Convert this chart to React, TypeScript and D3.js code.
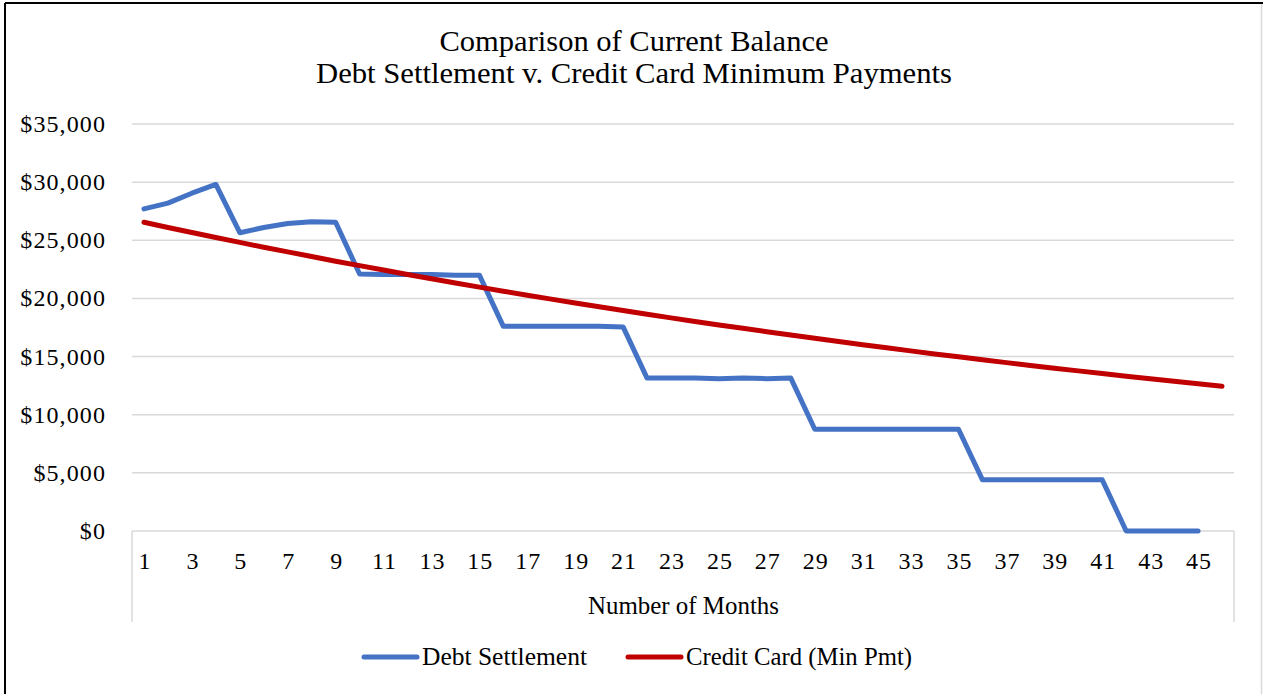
import React from "react";
import * as d3 from "d3";

const months: number[] = Array.from({ length: 46 }, (_, i) => i + 1);

const debtSettlement: number[] = [
  27700, 28200, 29050, 29800, 25650, 26100, 26450, 26600, 26550, 22100,
  22050, 22050, 22050, 22000, 22000, 17600, 17600, 17600, 17600, 17600,
  17550, 13150, 13150, 13150, 13100, 13150, 13100, 13150, 8750, 8750,
  8750, 8750, 8750, 8750, 8750, 4400, 4400, 4400, 4400, 4400,
  4400, 0, 0, 0, 0,
];

const creditCard: number[] = [
  26550, 26100, 25670, 25240, 24820, 24400, 24000, 23600, 23200, 22820,
  22440, 22060, 21690, 21330, 20970, 20620, 20280, 19940, 19610, 19280,
  18960, 18640, 18330, 18020, 17720, 17430, 17140, 16850, 16570, 16290,
  16020, 15750, 15490, 15230, 14980, 14730, 14480, 14240, 14000, 13770,
  13540, 13310, 13090, 12870, 12660, 12450,
];

const yTicks: number[] = [0, 5000, 10000, 15000, 20000, 25000, 30000, 35000];
const xTickLabels: number[] = months.filter((m) => m % 2 === 1);

const titleLines = [
  "Comparison of Current Balance",
  "Debt Settlement v. Credit Card Minimum Payments",
];
const seriesNames = ["Debt Settlement", "Credit Card (Min Pmt)"];
const seriesColors = ["#4472C4", "#C00000"];

const W = 1263;
const H = 694;
const plot = { left: 132, right: 1234, top: 124, bottom: 531 };
const FONT = "'Liberation Serif', 'Times New Roman', serif";

export default function App() {
  const x = d3
    .scaleBand<number>()
    .domain(months)
    .range([plot.left, plot.right]);
  const cx = (m: number) => (x(m) as number) + x.bandwidth() / 2;
  const y = d3.scaleLinear().domain([0, 35000]).range([plot.bottom, plot.top]);
  const fmt = (v: number) => "$" + d3.format(",")(v);

  const line = d3
    .line<number>()
    .x((_, i) => cx(months[i]))
    .y((d) => y(d));

  return (
    <svg
      width={W}
      height={H}
      style={{ position: "absolute", left: 0, top: 0, background: "#fff" }}
      fontFamily={FONT}
    >
      <rect x={0} y={0} width={W} height={H} fill="#fff" />
      {/* border */}
      <line x1={5} y1={3} x2={W} y2={3} stroke="#000" strokeWidth={2} />
      <line x1={5} y1={3} x2={5} y2={H} stroke="#000" strokeWidth={2} />
      <line x1={1261.5} y1={4} x2={1261.5} y2={H} stroke="#d9d9d9" strokeWidth={1.5} />

      {/* title */}
      <text x={634} y={51} textAnchor="middle" fontSize={29} textLength={389} lengthAdjust="spacingAndGlyphs" fill="#000">
        {titleLines[0]}
      </text>
      <text x={634} y={83} textAnchor="middle" fontSize={29} textLength={636} lengthAdjust="spacingAndGlyphs" fill="#000">
        {titleLines[1]}
      </text>

      {/* gridlines */}
      {yTicks.map((t) => (
        <line
          key={"g" + t}
          x1={plot.left}
          x2={plot.right}
          y1={y(t)}
          y2={y(t)}
          stroke="#d9d9d9"
          strokeWidth={1.5}
        />
      ))}
      {/* y tick labels */}
      {yTicks.map((t) => (
        <text
          key={"yt" + t}
          x={106}
          y={y(t) + 8}
          textAnchor="end"
          fontSize={24}
          letterSpacing={1.1}
          fill="#000"
        >
          {fmt(t)}
        </text>
      ))}

      {/* category axis box lines */}
      <line x1={plot.left} x2={plot.left} y1={plot.bottom} y2={622} stroke="#d9d9d9" strokeWidth={1.5} />
      <line x1={plot.right} x2={plot.right} y1={plot.bottom} y2={622} stroke="#d9d9d9" strokeWidth={1.5} />

      {/* x tick labels */}
      {xTickLabels.map((m) => (
        <text
          key={"xt" + m}
          x={cx(m) + 1}
          y={569}
          textAnchor="middle"
          fontSize={24}
          letterSpacing={1}
          fill="#000"
        >
          {m}
        </text>
      ))}

      {/* axis title */}
      <text x={683.5} y={614} textAnchor="middle" fontSize={25} textLength={191} lengthAdjust="spacingAndGlyphs" fill="#000">
        Number of Months
      </text>

      {/* series */}
      <path
        d={line(debtSettlement) || ""}
        fill="none"
        stroke={seriesColors[0]}
        strokeWidth={5}
        strokeLinejoin="round"
        strokeLinecap="round"
      />
      <path
        d={line(creditCard) || ""}
        fill="none"
        stroke={seriesColors[1]}
        strokeWidth={5}
        strokeLinejoin="round"
        strokeLinecap="round"
      />

      {/* legend */}
      <line x1={364} x2={417} y1={657} y2={657} stroke={seriesColors[0]} strokeWidth={5} strokeLinecap="round" />
      <text x={422} y={665} fontSize={25} textLength={165} lengthAdjust="spacingAndGlyphs" fill="#000">
        {seriesNames[0]}
      </text>
      <line x1={628} x2={681} y1={657} y2={657} stroke={seriesColors[1]} strokeWidth={5} strokeLinecap="round" />
      <text x={686} y={665} fontSize={25} textLength={226} lengthAdjust="spacingAndGlyphs" fill="#000">
        {seriesNames[1]}
      </text>
    </svg>
  );
}
